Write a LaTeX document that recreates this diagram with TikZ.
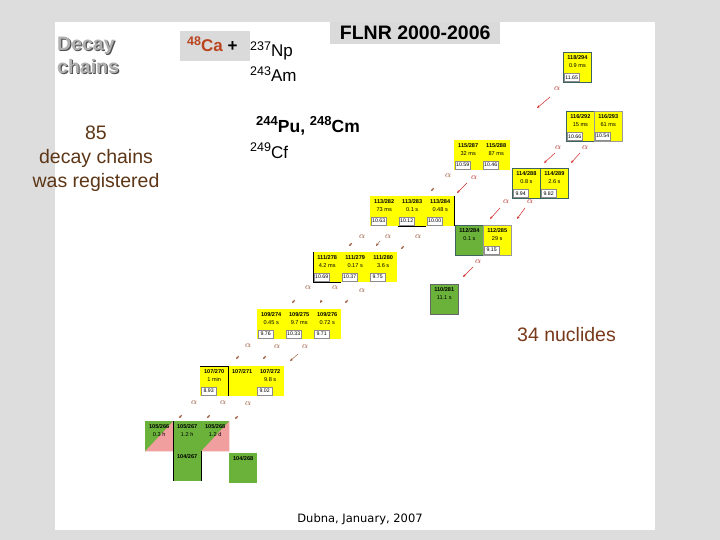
\documentclass[tikz,border=0pt]{standalone}
\usepackage{fontspec}
\setmainfont{Liberation Sans}
\newfontfamily\dubnafont{DejaVu Sans}
\usetikzlibrary{arrows.meta}

\definecolor{slidegray}{RGB}{221,221,221}
\definecolor{boxgray}{RGB}{218,218,218}
\definecolor{nucyellow}{RGB}{255,255,0}
\definecolor{nucgreen}{RGB}{106,178,58}
\definecolor{nucpink}{RGB}{240,158,158}
\definecolor{chainbrown}{RGB}{92,54,22}
\definecolor{nuclbrown}{RGB}{120,58,26}
\definecolor{cabrown}{RGB}{186,68,30}
\definecolor{arrowred}{RGB}{212,40,40}
\definecolor{alphared}{RGB}{176,48,40}
\definecolor{alphabrown}{RGB}{150,80,50}
\definecolor{edgeteal}{RGB}{62,98,96}
\definecolor{decaygray}{RGB}{176,176,176}
\definecolor{shadowgray}{RGB}{80,80,80}

\tikzset{
  cell/.style={
    rectangle,
    anchor=north west,
    minimum width=28pt,
    minimum height=30pt,
    inner sep=0pt,
    fill=nucyellow
  },
  zname/.style={
    anchor=north,
    font=\bfseries\fontsize{5.6}{5.6}\selectfont,
    inner sep=0pt,
    yshift=-3pt
  },
  thalf/.style={
    anchor=north,
    font=\fontsize{5.6}{5.6}\selectfont,
    inner sep=0pt,
    yshift=-11.5pt
  },
  ebox/.style={
    anchor=south west,
    font=\fontsize{5.2}{5.2}\selectfont,
    fill=white,
    draw=black!45,
    line width=0.3pt,
    inner sep=0.6pt,
    minimum width=15pt,
    minimum height=8.5pt,
    xshift=1pt,
    yshift=1pt
  },
  nuc/.style n args={3}{
    cell,
    label={[zname]north:#1},
    label={[thalf]north:#2},
    label={[ebox]south west:#3}
  },
  nuctwo/.style 2 args={
    cell,
    label={[zname]north:#1},
    label={[thalf]north:#2}
  },
  greencell/.style={
    cell,
    fill=nucgreen
  },
  bordered/.style={
    draw=edgeteal,
    line width=0.8pt
  },
  lightborder/.style={
    draw=black!40,
    line width=0.5pt
  },
  blackedge/.style={
    draw=black,
    line width=0.8pt
  },
  alphalabel/.style={
    text=alphared,
    font=\fontsize{9}{9}\selectfont,
    inner sep=0pt
  },
  faintalpha/.style={
    alphalabel,
    text=alphabrown
  },
  decay/.style={
    draw=arrowred,
    line width=0.5pt,
    -{Stealth[length=3pt,width=2.4pt]}
  },
  faintdecay/.style={
    decay,
    draw=alphabrown,
    line width=0.4pt
  }
}

\begin{document}
\begin{tikzpicture}[x=1pt,y=-1pt]
  \fill[slidegray] (0,0) rectangle (720,540);
  \fill[white] (55,22) rectangle (655,530);
  \useasboundingbox (0,0) rectangle (720,540);

  \node[fill=boxgray, anchor=north west, minimum width=170pt, minimum height=22pt,
    inner sep=0pt] (titlebox) at (330,22) {};
  \node[font=\bfseries\fontsize{19.5}{19.5}\selectfont] (title) at (titlebox.center) {FLNR 2000-2006};

  \node[anchor=north west, align=left, inner sep=0pt, text=shadowgray,
    font=\bfseries\fontsize{19.5}{23}\selectfont] (decayshadow) at (58.2,38.2) {Decay\\chains};
  \node[anchor=north west, align=left, inner sep=0pt, text=decaygray,
    font=\bfseries\fontsize{19.5}{23}\selectfont] (decay) at (57,37) {Decay\\chains};

  \node[anchor=north, align=center, inner sep=0pt, text=chainbrown,
    font=\fontsize{19.5}{24}\selectfont] (count) at (96,126) {85\\decay chains\\was registered};

  \node[fill=boxgray, anchor=north west, minimum width=70pt, minimum height=30pt,
    inner sep=0pt] (cabox) at (180,31) {};
  \node[anchor=base west, inner sep=0pt, text=cabrown,
    font=\bfseries\fontsize{17}{17}\selectfont] (ca) at (187,52)
    {\raisebox{6pt}{\fontsize{12.5}{12.5}\selectfont 48}Ca \textcolor{black}{+}};
  \node[anchor=base west, inner sep=0pt, font=\fontsize{17}{17}\selectfont] (np) at (250,57)
    {\raisebox{6pt}{\fontsize{12.5}{12.5}\selectfont 237}Np};
  \node[anchor=base west, inner sep=0pt, font=\fontsize{17}{17}\selectfont] (am) at (250,82)
    {\raisebox{6pt}{\fontsize{12.5}{12.5}\selectfont 243}Am};
  \node[anchor=base west, inner sep=0pt, font=\bfseries\fontsize{17.5}{17.5}\selectfont] (pucm) at (256,133)
    {\raisebox{7pt}{\fontsize{13}{13}\selectfont 244}Pu, \raisebox{7pt}{\fontsize{13}{13}\selectfont 248}Cm};
  \node[anchor=base west, inner sep=0pt, font=\fontsize{17}{17}\selectfont] (cf) at (250,159)
    {\raisebox{7pt}{\fontsize{12.5}{12.5}\selectfont 249}Cf};

  \node[anchor=base west, inner sep=0pt, text=nuclbrown,
    font=\fontsize{19.5}{19.5}\selectfont] (nuclides) at (517,341) {34 nuclides};
  \node[anchor=base, inner sep=0pt, font=\dubnafont\fontsize{11.5}{12}\selectfont] (dubna) at (360,522)
    {Dubna, January, 2007};

  \node[nuc={118/294}{0.9 ms}{11.65}, bordered] (n118a294) at (563,52) {};
  \node[nuc={116/292}{15 ms}{10.66}, bordered] (n116a292) at (566,111) {};
  \node[nuc={116/293}{61 ms}{10.54}, lightborder] (n116a293) at (594,111) {};
  \node[nuc={115/287}{32 ms}{10.59}] (n115a287) at (454,140) {};
  \node[nuc={115/288}{87 ms}{10.46}] (n115a288) at (482,140) {};
  \node[nuc={114/288}{0.8 s}{9.94}, bordered] (n114a288) at (512,168) {};
  \node[nuc={114/289}{2.6 s}{9.82}, bordered] (n114a289) at (540,168) {};
  \node[nuc={113/282}{73 ms}{10.63}] (n113a282) at (370,196) {};
  \node[nuc={113/283}{0.1 s}{10.12}] (n113a283) at (398,196) {};
  \node[nuc={113/284}{0.48 s}{10.00}] (n113a284) at (426,196) {};
  \node[nuctwo={112/284}{0.1 s}, fill=nucgreen, bordered] (n112a284) at (455,225) {};
  \node[nuc={112/285}{29 s}{9.15}, lightborder] (n112a285) at (483,225) {};
  \node[nuc={111/278}{4.2 ms}{10.69}] (n111a278) at (313,252) {};
  \node[nuc={111/279}{0.17 s}{10.37}] (n111a279) at (341,252) {};
  \node[nuc={111/280}{3.6 s}{9.75}] (n111a280) at (369,252) {};
  \node[nuctwo={110/281}{11.1 s}, fill=nucgreen, draw=black!60, line width=0.5pt] (n110a281) at (430,284) {};
  \node[nuc={109/274}{0.45 s}{9.76}] (n109a274) at (257,309) {};
  \node[nuc={109/275}{9.7 ms}{10.33}] (n109a275) at (285,309) {};
  \node[nuc={109/276}{0.72 s}{9.71}] (n109a276) at (313,309) {};
  \node[nuc={107/270}{1 min}{8.93}] (n107a270) at (200,366) {};
  \node[cell, label={[zname]north:107/271}] (n107a271) at (228,366) {};
  \node[nuc={107/272}{9.8 s}{9.02}] (n107a272) at (256,366) {};

  \node[greencell] (n105a266) at (145,421) {};
  \fill[nucpink] (n105a266.south west) -- (n105a266.south east) -- (n105a266.north east) -- cycle;
  \node[zname] (z105a266) at (n105a266.north) {105/266};
  \node[thalf] (t105a266) at (n105a266.north) {0.3 h};
  \node[greencell, label={[zname]north:105/267}, label={[thalf]north:1.2 h}] (n105a267) at (173,421) {};
  \node[greencell] (n105a268) at (201,421) {};
  \fill[nucpink] (n105a268.south west) -- (n105a268.south east) -- (n105a268.north east) -- cycle;
  \node[zname] (z105a268) at (n105a268.north) {105/268};
  \node[thalf] (t105a268) at (n105a268.north) {1.2 d};
  \node[greencell, label={[zname]north:104/267}] (n104a267) at (173,451) {};
  \node[greencell, label={[zname]north:104/268}] (n104a268) at (229,453) {};

  \draw[blackedge] (n113a283.south west) -- (n113a283.south east);
  \draw[blackedge] (n113a284.north east) -- (n113a284.south east);
  \draw[blackedge] (n111a278.north west) -- (n111a278.south west) -- (n111a278.south east);
  \draw[blackedge] (n107a270.north west) -- (n107a270.north east) -- (n107a270.south east);
  \draw[blackedge] (n105a267.north west) -- (n104a267.south west);
  \draw[blackedge] (n104a267.north east) -- (n104a267.south east);

  \node[alphalabel] (a1) at (557,89) {$\alpha$};
  \draw[decay] ([shift={(-7,8)}]a1.center) -- ++(-13,11);
  \node[alphalabel] (a2) at (558,148) {$\alpha$};
  \draw[decay] ([shift={(-3,5)}]a2.center) -- ++(-11,10);
  \node[alphalabel] (a3) at (585,148) {$\alpha$};
  \draw[decay] ([shift={(-5,5)}]a3.center) -- ++(-9,10);
  \node[faintalpha] (a4) at (448,176) {$\alpha$};
  \draw[faintdecay] ([shift={(-14,12)}]a4.center) -- ++(-3,3);
  \node[alphalabel] (a5) at (474,178) {$\alpha$};
  \draw[decay] ([shift={(-7,5)}]a5.center) -- ++(-10,10);
  \node[alphalabel] (a6) at (506,202) {$\alpha$};
  \draw[decay] ([shift={(-6,6)}]a6.center) -- ++(-10,11);
  \node[alphalabel] (a7) at (530,202) {$\alpha$};
  \draw[decay] ([shift={(-5,6)}]a7.center) -- ++(-8,11);
  \node[alphalabel] (a8) at (478,262) {$\alpha$};
  \draw[decay] ([shift={(-5,5)}]a8.center) -- ++(-10,10);

  \node[faintalpha] (b1) at (362,237) {$\alpha$};
  \draw[faintdecay] ([shift={(-10,6)}]b1.center) -- ++(-3,3);
  \node[faintalpha] (b2) at (388,237) {$\alpha$};
  \draw[faintdecay] ([shift={(-8,4)}]b2.center) -- ++(-4,5);
  \node[faintalpha] (b3) at (418,237) {$\alpha$};
  \draw[faintdecay] ([shift={(-14,9)}]b3.center) -- ++(-3,3);
  \node[faintalpha] (c1) at (308,288) {$\alpha$};
  \draw[faintdecay] ([shift={(-13,12)}]c1.center) -- ++(-3,3);
  \node[faintalpha] (c2) at (335,288) {$\alpha$};
  \draw[faintdecay] ([shift={(-13,12)}]c2.center) -- ++(-2,3);
  \node[faintalpha] (c3) at (362,291) {$\alpha$};
  \draw[faintdecay] ([shift={(-14,9)}]c3.center) -- ++(-3,3);
  \node[faintalpha] (d1) at (248,346) {$\alpha$};
  \draw[faintdecay] ([shift={(-9,10)}]d1.center) -- ++(-3,3);
  \node[faintalpha] (d2) at (277,347) {$\alpha$};
  \draw[faintdecay] ([shift={(-11,9)}]d2.center) -- ++(-3,3);
  \node[faintalpha] (d3) at (305,347) {$\alpha$};
  \draw[faintdecay] ([shift={(-7,7)}]d3.center) -- ++(-8,7);
  \node[faintalpha] (e1) at (194,403) {$\alpha$};
  \draw[faintdecay] ([shift={(-12,12)}]e1.center) -- ++(-3,3);
  \node[faintalpha] (e2) at (223,403) {$\alpha$};
  \draw[faintdecay] ([shift={(-13,12)}]e2.center) -- ++(-3,3);
  \node[faintalpha] (e3) at (248,404) {$\alpha$};
  \draw[faintdecay] ([shift={(-10,12)}]e3.center) -- ++(-3,3);
\end{tikzpicture}
\end{document}
